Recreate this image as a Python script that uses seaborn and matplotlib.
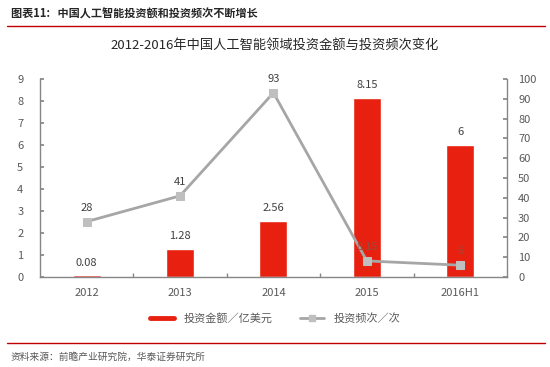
import matplotlib
matplotlib.use("Agg")
import matplotlib.pyplot as plt
import seaborn as sns
import pandas as pd
from matplotlib.lines import Line2D

sns.set_theme(style="white")
plt.rcParams['font.family'] = ['Noto Sans CJK SC', 'DejaVu Sans']

categories = ["2012", "2013", "2014", "2015", "2016H1"]
amount = [0.08, 1.28, 2.56, 8.15, 6]
frequency = [28, 41, 93, 8.15, 6]
left_ticks = list(range(0, 10))
right_ticks = list(range(0, 101, 10))

df = pd.DataFrame({"year": categories, "amount": amount, "freq": frequency})

fig = plt.figure(figsize=(5.5, 3.67), dpi=100)
ax = fig.add_axes([0.0727, 0.245, 0.849, 0.540])

bar_color = "#E8200F"
line_color = "#A6A6A6"
marker_color = "#BFBFBF"
text_color = "#404040"
tick_color = "#595959"
axis_color = "#868686"

sns.barplot(data=df, x="year", y="amount", ax=ax, color=bar_color, width=0.3,
            saturation=1, order=categories)
ax.set_xlim(-0.5, 4.5)
ax.set_ylim(0, 9)
ax.set_yticks(left_ticks)
ax.set_xlabel("")
ax.set_ylabel("")

for i, v in enumerate(amount):
    ax.text(i, v + 0.35, f"{v:g}", ha="center", va="bottom", fontsize=8, color=text_color)

ax2 = ax.twinx()
sns.lineplot(x=list(range(len(categories))), y=frequency, ax=ax2, color=line_color,
             linewidth=2, marker="s", markersize=6, markerfacecolor=marker_color,
             markeredgecolor=marker_color)
ax2.set_ylim(0, 100)
ax2.set_yticks(right_ticks)
ax2.set_xlim(-0.5, 4.5)

for i, v in enumerate(frequency):
    col = "#9A4A3A" if i >= 3 else text_color
    ax2.text(i, v + 4.5, f"{v:g}", ha="center", va="bottom", fontsize=8, color=col)

for a in (ax, ax2):
    a.spines["top"].set_visible(False)
    for s in ("left", "right", "bottom"):
        a.spines[s].set_color(axis_color)
        a.spines[s].set_linewidth(1)
    a.grid(False)

ax.spines["right"].set_visible(False)
ax2.spines["left"].set_visible(False)
ax2.spines["bottom"].set_visible(False)

ax.tick_params(axis="y", direction="in", length=3, color=axis_color, labelsize=8,
               labelcolor=tick_color, pad=12, left=True)
ax2.tick_params(axis="y", direction="in", length=3, color=axis_color, labelsize=8,
                labelcolor=tick_color, pad=8, right=True)
ax.tick_params(axis="x", length=0, labelsize=8, labelcolor=tick_color, pad=8)
ax.set_xticks([0.5, 1.5, 2.5, 3.5], minor=True)
ax.tick_params(axis="x", which="minor", direction="in", length=3, color=axis_color, bottom=True)

fig.text(0.5, 0.877, "2012-2016年中国人工智能领域投资金额与投资频次变化", ha="center",
         va="center", fontsize=9.5, color="#262626")

handles = [Line2D([], [], color=bar_color, linewidth=3.5),
           Line2D([], [], color=line_color, linewidth=2, marker="s", markersize=5,
                  markerfacecolor=marker_color, markeredgecolor=marker_color)]
fig.legend(handles, ["投资金额／亿美元", "投资频次／次"], loc="center",
           bbox_to_anchor=(0.5, 0.133), ncol=2, frameon=False, fontsize=8,
           labelcolor=tick_color, handlelength=2.2, columnspacing=2.5)

fig.text(0.02, 0.962, "图表11:   中国人工智能投资额和投资频次不断增长", ha="left",
         va="center", fontsize=8, color="#262626", fontweight="bold")
fig.add_artist(Line2D([0.012, 0.99], [0.93, 0.93], color="#C00000", linewidth=1))
fig.add_artist(Line2D([0.012, 0.99], [0.065, 0.065], color="#C00000", linewidth=1))
fig.text(0.02, 0.027, "资料来源：前瞻产业研究院，华泰证券研究所", ha="left",
         va="center", fontsize=7, color="#595959")

fig.savefig("out.png", dpi=100)
